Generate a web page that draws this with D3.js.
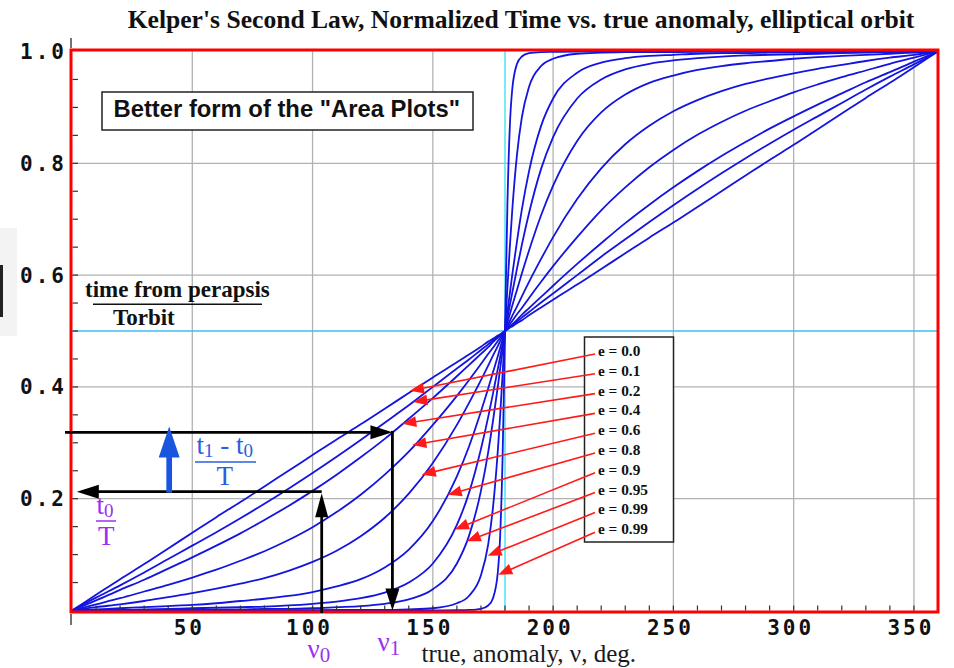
<!DOCTYPE html>
<html><head><meta charset="utf-8">
<script src="https://cdn.jsdelivr.net/npm/d3@7"></script>
<style>body{margin:0;background:#fff}</style>
</head><body>
<svg id="chart" width="954" height="668"></svg>
<script>
// ---------------- DATA ----------------
const anomaly = [0,10,20,30,40,50,60,70,80,90,100,110,120,130,140,150,160,165,170,173,175,177,178,179,180,
  181,182,183,185,187,190,195,200,210,220,230,240,250,260,270,280,290,300,310,320,330,340,350,360];

const time_e000 = [0,.028,.056,.083,.111,.139,.167,.194,.222,.250,.278,.306,.333,.361,.389,.417,.444,.458,.472,.481,.486,.492,.494,.497,.500,
  .503,.506,.508,.514,.519,.528,.542,.556,.583,.611,.639,.667,.694,.722,.750,.778,.806,.833,.861,.889,.917,.944,.972,1];
const time_e010 = [0,.023,.045,.068,.092,.116,.140,.165,.191,.218,.246,.275,.305,.336,.367,.400,.433,.449,.466,.476,.483,.490,.493,.497,.500,
  .503,.507,.510,.517,.524,.534,.551,.567,.600,.633,.664,.695,.725,.754,.782,.809,.835,.860,.884,.908,.932,.955,.977,1];
const time_e020 = [0,.018,.037,.055,.075,.095,.116,.138,.162,.187,.214,.243,.274,.307,.343,.380,.419,.439,.459,.471,.480,.488,.492,.496,.500,
  .504,.508,.512,.520,.529,.541,.561,.581,.620,.657,.693,.726,.757,.786,.813,.838,.862,.884,.905,.925,.945,.963,.982,1];
const time_e040 = [0,.011,.022,.034,.046,.059,.073,.089,.106,.126,.149,.176,.207,.243,.284,.332,.384,.412,.441,.459,.470,.482,.488,.494,.500,
  .506,.512,.518,.530,.541,.559,.588,.616,.668,.716,.757,.793,.824,.851,.874,.894,.911,.927,.941,.954,.966,.978,.989,1];
const time_e060 = [0,.006,.011,.017,.024,.031,.039,.048,.058,.071,.087,.107,.133,.166,.209,.264,.332,.371,.412,.438,.456,.473,.482,.491,.500,
  .509,.518,.527,.544,.562,.588,.629,.668,.736,.791,.834,.867,.893,.913,.929,.942,.952,.961,.969,.976,.983,.989,.994,1];
const time_e080 = [0,.002,.004,.006,.008,.010,.013,.017,.021,.026,.033,.043,.056,.077,.109,.160,.240,.293,.356,.397,.426,.455,.470,.485,.500,
  .515,.530,.545,.574,.603,.644,.707,.760,.840,.891,.923,.944,.957,.967,.974,.979,.983,.987,.990,.992,.994,.996,.998,1];
const time_e090 = [0,.001,.001,.002,.003,.004,.005,.006,.007,.009,.012,.016,.022,.032,.050,.084,.153,.210,.289,.346,.388,.432,.454,.477,.500,
  .523,.546,.568,.612,.654,.711,.790,.847,.916,.950,.968,.978,.984,.988,.991,.993,.994,.995,.996,.997,.998,.999,.999,1];
const time_e095 = [0,0,0,.001,.001,.001,.002,.002,.003,.003,.004,.006,.008,.012,.020,.038,.084,.133,.214,.283,.339,.400,.433,.466,.500,
  .534,.567,.600,.661,.717,.786,.867,.916,.962,.980,.988,.992,.994,.996,.997,.997,.998,.998,.999,.999,.999,1,1,1];
const time_e099 = [0,0,0,0,0,0,0,0,0,0,0,.001,.001,.001,.002,.004,.013,.026,.063,.118,.184,.285,.350,.423,.500,
  .577,.650,.715,.816,.882,.937,.974,.987,.996,.998,.999,.999,.999,1,1,1,1,1,1,1,1,1,1,1];
const time_e0999 = [0,0,0,0,0,0,0,0,0,0,0,0,0,0,0,0,.0005,.001,.003,.009,.022,.068,.135,.274,.500,
  .726,.865,.932,.978,.991,.997,.999,.9995,1,1,1,1,1,1,1,1,1,1,1,1,1,1,1,1];

const seriesList = [time_e000,time_e010,time_e020,time_e040,time_e060,time_e080,time_e090,time_e095,time_e099,time_e0999];
const legendLabels = ["e = 0.0","e = 0.1","e = 0.2","e = 0.4","e = 0.6","e = 0.8","e = 0.9","e = 0.95","e = 0.99","e = 0.99"];
// arrow tips (true anomaly, normalized time) pointing at each curve
const arrowTipAnomaly = [140.5,141.9,137.3,141.5,145.4,156.2,159.2,164.1,172.8,177.2];
const arrowTipTime    = [0.393,0.373,0.334,0.296,0.243,0.207,0.145,0.124,0.098,0.064];

const xTickValues = [50,100,150,200,250,300,350];
const xTickLabels = ["50","100","150","200","250","300","350"];
const yTickValues = [0.2,0.4,0.6,0.8,1.0];
const yTickLabels = ["0.2","0.4","0.6","0.8","1.0"];

const nu0 = 103.8, t0 = 0.2125, nu1 = 133.2, t1 = 0.3188;
const blueArrowNu = 40.4, blueArrowTop = 0.329;

// ---------------- CHART ----------------
const svg = d3.select("#chart");
const x = d3.scaleLinear().domain([0,360]).range([72,938]);
const y = d3.scaleLinear().domain([0,1]).range([610.5,51.5]);

const frame = {l:71, r:938, t:50, b:612};

// left artifact
svg.append("rect").attr("x",0).attr("y",228).attr("width",17).attr("height",108).attr("fill","#f3f3f3");
svg.append("rect").attr("x",0).attr("y",265).attr("width",3).attr("height",52).attr("fill","#222");

// grid
const grid = svg.append("g").attr("stroke","#b2b2b2").attr("stroke-width",1.3);
xTickValues.forEach(v=>grid.append("line").attr("x1",x(v)).attr("x2",x(v)).attr("y1",frame.t).attr("y2",frame.b));
[0.2,0.4,0.6,0.8].forEach(v=>grid.append("line").attr("x1",frame.l).attr("x2",frame.r).attr("y1",y(v)).attr("y2",y(v)));

// cyan reference lines
svg.append("line").attr("x1",x(180)).attr("x2",x(180)).attr("y1",frame.t).attr("y2",frame.b)
  .attr("stroke","#3ee4f2").attr("stroke-width",1.4);
svg.append("line").attr("x1",frame.l).attr("x2",frame.r).attr("y1",y(0.5)).attr("y2",y(0.5))
  .attr("stroke","#3cc0ee").attr("stroke-width",1.3);

// curves
const line = d3.line().x((d,i)=>x(anomaly[i])).y(d=>y(d)).curve(d3.curveMonotoneX);
svg.append("g").selectAll("path").data(seriesList).join("path")
  .attr("d",line).attr("fill","none").attr("stroke","#1414e0").attr("stroke-width",1.8).attr("stroke-linejoin","round");

// frame
svg.append("rect").attr("x",frame.l).attr("y",frame.t).attr("width",frame.r-frame.l).attr("height",frame.b-frame.t)
  .attr("fill","none").attr("stroke","#ff0000").attr("stroke-width",3);

// axis stubs
svg.append("line").attr("x1",frame.l).attr("x2",frame.l).attr("y1",38).attr("y2",48).attr("stroke","#444").attr("stroke-width",1.5);
svg.append("line").attr("x1",frame.l).attr("x2",frame.l).attr("y1",614).attr("y2",625).attr("stroke","#444").attr("stroke-width",1.5);

// minor ticks
const ticks = svg.append("g").attr("stroke","#333").attr("stroke-width",1.2);
d3.range(1,20).forEach(k=>{const v=k*0.05; ticks.append("line").attr("x1",frame.l+1.5).attr("x2",frame.l+7).attr("y1",y(v)).attr("y2",y(v));});
d3.range(1,36).forEach(k=>{const v=k*10; ticks.append("line").attr("x1",x(v)).attr("x2",x(v)).attr("y1",frame.b-1.5).attr("y2",frame.b-6.5);});

// tick labels
const monoFont = "'DejaVu Sans Mono','Liberation Mono',monospace";
svg.append("g").selectAll("text").data(xTickValues).join("text")
  .attr("x",d=>x(d)-3).attr("y",635).attr("text-anchor","middle")
  .attr("font-family",monoFont).attr("font-weight","bold").attr("font-size",21).attr("letter-spacing","3px")
  .attr("fill","#111").text((d,i)=>xTickLabels[i]);
svg.append("g").selectAll("text").data(yTickValues).join("text")
  .attr("x",20).attr("y",d=>y(d)+7.5)
  .attr("font-family",monoFont).attr("font-weight","bold").attr("font-size",21).attr("letter-spacing","3px")
  .attr("fill","#111").text((d,i)=>yTickLabels[i]);

const serif = "'Liberation Serif','Times New Roman',serif";
// title
svg.append("text").attr("x",521).attr("y",28).attr("text-anchor","middle")
  .attr("font-family",serif).attr("font-weight","bold").attr("font-size",25.6).attr("fill","#111")
  .text("Kelper's Second Law, Normalized Time vs. true anomaly, elliptical orbit");

// box label
svg.append("rect").attr("x",102).attr("y",92).attr("width",371).attr("height",38).attr("fill","#fff").attr("stroke","#222").attr("stroke-width",1.5);
svg.append("text").attr("x",113.5).attr("y",117).attr("font-family","'Liberation Sans',Arial,sans-serif")
  .attr("font-weight","bold").attr("font-size",23.8).attr("fill","#111").text('Better form of the "Area Plots"');

// y-axis fraction label
svg.append("text").attr("x",85).attr("y",296.5).attr("font-family",serif).attr("font-weight","bold").attr("font-size",23).attr("fill","#111").text("time from perapsis");
svg.append("line").attr("x1",93).attr("x2",262).attr("y1",304.3).attr("y2",304.3).attr("stroke","#111").attr("stroke-width",1.6);
svg.append("text").attr("x",113).attr("y",325).attr("font-family",serif).attr("font-weight","bold").attr("font-size",23).attr("fill","#111").text("Torbit");

// arrow helper
function arrow(g,x1,y1,x2,y2,color,width,headLen,headHalf){
  const dx=x2-x1, dy=y2-y1, L=Math.hypot(dx,dy), ux=dx/L, uy=dy/L;
  const bx=x2-ux*headLen, by=y2-uy*headLen;
  g.append("line").attr("x1",x1).attr("y1",y1).attr("x2",bx+ux*2).attr("y2",by+uy*2).attr("stroke",color).attr("stroke-width",width);
  g.append("path").attr("d",`M${x2},${y2}L${bx-uy*headHalf},${by+ux*headHalf}L${bx+uy*headHalf},${by-ux*headHalf}Z`).attr("fill",color);
}

// legend box
const legendBaseline = i => 356 + i*19.8;
svg.append("rect").attr("x",584.5).attr("y",337).attr("width",89).attr("height",205).attr("fill","#fff").attr("stroke","#222").attr("stroke-width",1.5);
svg.append("g").selectAll("text").data(legendLabels).join("text")
  .attr("x",598).attr("y",(d,i)=>legendBaseline(i))
  .attr("font-family",serif).attr("font-weight","bold").attr("font-size",15.3).attr("fill","#111").text(d=>d);

// red pointer arrows
const ag = svg.append("g");
legendLabels.forEach((d,i)=>{
  arrow(ag,595,legendBaseline(i)-2,x(arrowTipAnomaly[i]),y(arrowTipTime[i]),"#ff1a1a",1.6,14,5.5);
});

// black annotation arrows
const bg = svg.append("g");
arrow(bg,x(-2.9),y(t1),x(nu1),y(t1),"#000",2.8,22,7);
arrow(bg,x(nu1),y(t1)-1.4,x(nu1),y(0),"#000",2.8,22,7);
arrow(bg,x(nu0),y(t0),x(2),y(t0),"#000",2.8,22,7);
arrow(bg,x(nu0),613,x(nu0),y(t0)+1.5,"#000",2.8,24,6.5);
// blue arrow
arrow(bg,x(blueArrowNu),y(t0)+1,x(blueArrowNu),y(blueArrowTop),"#1a55e0",5.7,31,10.5);

// fraction (t1 - t0)/T
const blue = "#2a5ee0";
const f1 = svg.append("text").attr("x",196.5).attr("y",454).attr("font-family",serif).attr("font-size",27).attr("fill",blue);
f1.append("tspan").text("t");
f1.append("tspan").attr("font-size",19).attr("dy",3).text("1");
f1.append("tspan").attr("dy",-3).text(" - t");
f1.append("tspan").attr("font-size",19).attr("dy",3).text("0");
svg.append("line").attr("x1",195).attr("x2",256).attr("y1",462).attr("y2",462).attr("stroke",blue).attr("stroke-width",1.5);
svg.append("text").attr("x",216.5).attr("y",484.5).attr("font-family",serif).attr("font-size",27).attr("fill",blue).text("T");

// fraction t0/T
const purple = "#9b30f0";
const f2 = svg.append("text").attr("x",96.5).attr("y",514).attr("font-family",serif).attr("font-size",27).attr("fill",purple);
f2.append("tspan").text("t");
f2.append("tspan").attr("font-size",19).attr("dy",3).text("0");
svg.append("line").attr("x1",96).attr("x2",116).attr("y1",521).attr("y2",521).attr("stroke",purple).attr("stroke-width",1.5);
svg.append("text").attr("x",98).attr("y",544.5).attr("font-family",serif).attr("font-size",27).attr("fill",purple).text("T");

// nu labels
const n0 = svg.append("text").attr("x",307.5).attr("y",658).attr("font-family",serif).attr("font-size",27).attr("fill",purple);
n0.append("tspan").text("ν");
n0.append("tspan").attr("font-size",21).attr("dy",4).text("0");
const n1 = svg.append("text").attr("x",377.5).attr("y",651).attr("font-family",serif).attr("font-size",27).attr("fill",purple);
n1.append("tspan").text("ν");
n1.append("tspan").attr("font-size",21).attr("dy",4).text("1");

// x axis title
svg.append("text").attr("x",421.5).attr("y",662).attr("font-family",serif).attr("font-size",25).attr("fill","#1a1a1a")
  .text("true, anomaly, ν, deg.");
</script>
</body></html>
